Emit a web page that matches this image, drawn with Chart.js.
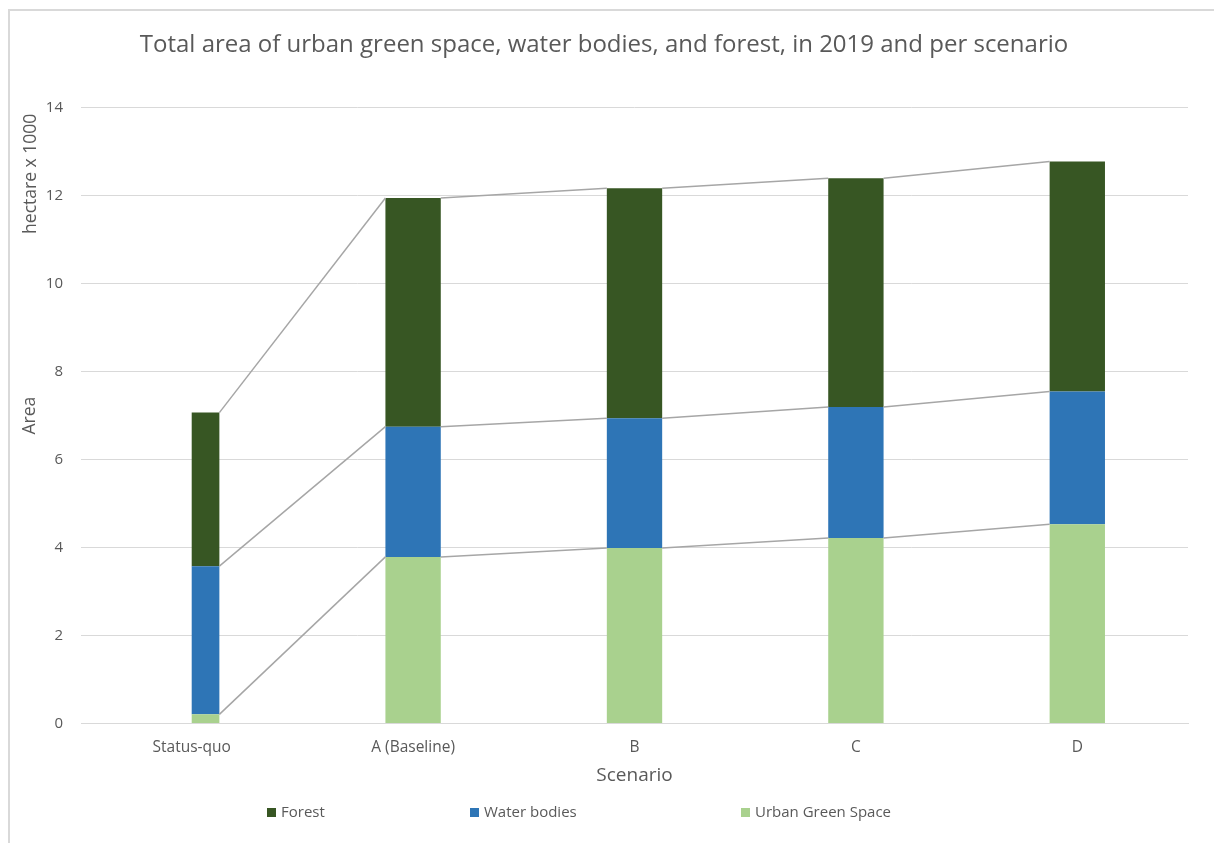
<!DOCTYPE html>
<html>
<head>
<meta charset="utf-8">
<script src="https://cdn.jsdelivr.net/npm/chart.js@4/dist/chart.umd.min.js"></script>
<style>
  html, body { margin: 0; padding: 0; background: #fff; }
  #wrap { position: absolute; left: 0; top: 0; width: 1214px; height: 843px; }
  #frame { position: absolute; left: 8px; top: 9px; width: 1300px; height: 900px; border-left: 2px solid #d9d9d9; border-top: 2px solid #d9d9d9; pointer-events: none; }
</style>
</head>
<body>
<div id="wrap"><canvas id="c" width="1214" height="843"></canvas></div>
<div id="frame"></div>
<script>
const categories = ['Status-quo', 'A (Baseline)', 'B', 'C', 'D'];
const urbanGreenSpace = [0.21, 3.79, 3.99, 4.22, 4.53];
const waterBodies = [3.37, 2.96, 2.95, 2.98, 3.02];
const forest = [3.49, 5.20, 5.23, 5.20, 5.23];
const spacer = [0, null, null, null, null];
const yTicks = [0, 2, 4, 6, 8, 10, 12, 14];
const legendOrder = ['Forest', 'Water bodies', 'Urban Green Space'];

const titleText = 'Total area of urban green space, water bodies, and forest, in 2019 and per scenario';
const textColor = '#595959';
const baseFont = "'Open Sans', 'Noto Sans', sans-serif";

const seriesLines = {
  id: 'seriesLines',
  afterDatasetsDraw(chart) {
    const ctx = chart.ctx;
    ctx.save();
    ctx.strokeStyle = '#a6a6a6';
    ctx.lineWidth = 1.5;
    chart.data.datasets.forEach((ds, di) => {
      if (ds.isSpacer) return;
      const els = chart.getDatasetMeta(di).data;
      for (let i = 0; i < els.length - 1; i++) {
        const a = els[i], b = els[i + 1];
        ctx.beginPath();
        ctx.moveTo(a.x + a.width / 2, a.y);
        ctx.lineTo(b.x - b.width / 2, b.y);
        ctx.stroke();
      }
    });
    ctx.restore();
  }
};

const extraText = {
  id: 'extraText',
  afterDraw(chart) {
    const ctx = chart.ctx;
    const area = chart.chartArea;
    ctx.save();
    ctx.fillStyle = textColor;
    ctx.font = "17.5px " + baseFont;
    ctx.textAlign = 'center';
    ctx.textBaseline = 'middle';
    ctx.save();
    ctx.translate(31, area.top + 66);
    ctx.rotate(-Math.PI / 2);
    ctx.fillText('hectare x 1000', 0, 0);
    ctx.restore();
    // legend
    const boxX = [267, 470, 741];
    const ly = 813;
    ctx.font = "15px " + baseFont;
    ctx.textAlign = 'left';
    legendOrder.forEach((name, k) => {
      const ds = chart.data.datasets.find(d => d.label === name);
      ctx.fillStyle = ds.backgroundColor;
      ctx.fillRect(boxX[k], ly - 5, 9, 9);
      ctx.fillStyle = textColor;
      ctx.fillText(name, boxX[k] + 14, ly);
    });
    ctx.restore();
  }
};

new Chart(document.getElementById('c'), {
  type: 'bar',
  data: {
    labels: categories,
    datasets: [
      { label: '_spacer', data: spacer, stack: 'pad', backgroundColor: 'rgba(0,0,0,0)', isSpacer: true },
      { label: 'Urban Green Space', data: urbanGreenSpace, stack: 'main', backgroundColor: '#a9d18e' },
      { label: 'Water bodies', data: waterBodies, stack: 'main', backgroundColor: '#2e75b6' },
      { label: 'Forest', data: forest, stack: 'main', backgroundColor: '#375623' }
    ]
  },
  options: {
    responsive: false,
    animation: false,
    devicePixelRatio: 1,
    skipNull: true,
    categoryPercentage: 0.25,
    barPercentage: 1.0,
    layout: { padding: { left: 20, right: 26, top: 10, bottom: 56 } },
    plugins: {
      title: {
        display: true,
        text: titleText,
        color: textColor,
        font: { family: baseFont, size: 24, weight: 'normal' },
        padding: { top: 21, bottom: 48 }
      },
      legend: { display: false },
      tooltip: { enabled: false }
    },
    scales: {
      x: {
        stacked: true,
        grid: { display: false },
        border: { display: true, color: '#d9d9d9' },
        ticks: { color: textColor, font: { family: baseFont, size: 15.5 }, padding: 7 },
        title: { display: true, text: 'Scenario', color: textColor, font: { family: baseFont, size: 19 }, padding: { top: 0, bottom: 0 } }
      },
      y: {
        stacked: true,
        min: 0,
        max: 14,
        afterBuildTicks: (scale) => { scale.ticks = yTicks.map(v => ({ value: v })); },
        afterFit: (scale) => { scale.width = 61; },
        grid: { color: '#d9d9d9', lineWidth: 1, drawTicks: false },
        border: { display: false },
        ticks: { color: textColor, font: { family: baseFont, size: 15 }, padding: 18 },
        title: { display: true, text: 'Area', color: textColor, font: { family: baseFont, size: 17.5 }, padding: { top: 0, bottom: 0 } }
      }
    }
  },
  plugins: [seriesLines, extraText]
});
</script>
</body>
</html>
